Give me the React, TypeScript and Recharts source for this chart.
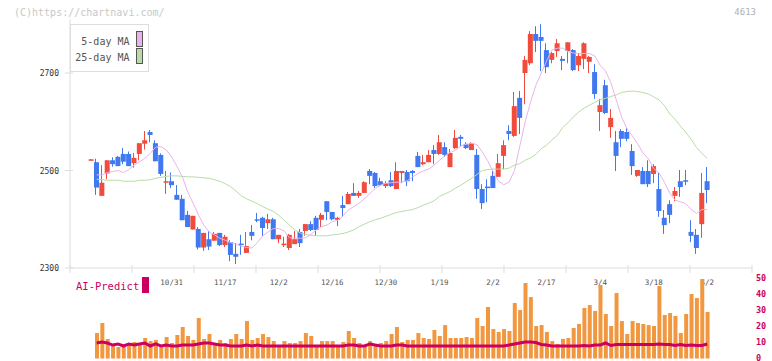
import { ComposedChart, Bar, Line, XAxis, YAxis } from "recharts";

// candle data, index 0 = oldest
const opens = [
  2522, 2517, 2448, 2494, 2521, 2528, 2534, 2534, 2515, 2534, 2555, 2579, 2556, 2532, 2475, 2478, 2450, 2442, 2409, 2379,
  2380, 2342, 2359, 2356, 2372, 2347, 2353, 2329, 2350, 2331, 2374, 2400, 2403, 2392, 2400, 2359, 2348, 2341, 2349, 2374,
  2376, 2390, 2403, 2399, 2437, 2415, 2399, 2429, 2431, 2454, 2448, 2454, 2499, 2495, 2478, 2468, 2480, 2462, 2495, 2497,
  2499, 2530, 2513, 2517, 2542, 2534, 2548, 2507, 2546, 2569, 2554, 2542, 2532, 2462, 2467, 2489, 2487, 2530, 2581, 2571,
  2649, 2700, 2720, 2780, 2774, 2747, 2727, 2745, 2729, 2745, 2747, 2716, 2729, 2723, 2702, 2620, 2675, 2589, 2558, 2581,
  2579, 2540, 2489, 2499, 2499, 2493, 2462, 2403, 2431, 2448, 2478, 2480, 2374, 2368, 2390, 2478,
];
const highs = [
  2523, 2524, 2511, 2521, 2527, 2530, 2546, 2539, 2536, 2556, 2581, 2583, 2562, 2535, 2499, 2496, 2470, 2450, 2417, 2407,
  2384, 2372, 2376, 2374, 2372, 2368, 2357, 2351, 2368, 2374, 2388, 2413, 2405, 2411, 2403, 2368, 2364, 2370, 2376, 2380,
  2390, 2396, 2407, 2413, 2437, 2415, 2405, 2448, 2456, 2474, 2458, 2478, 2503, 2497, 2485, 2478, 2497, 2517, 2499, 2501,
  2501, 2538, 2532, 2542, 2552, 2573, 2558, 2544, 2583, 2573, 2558, 2558, 2544, 2472, 2482, 2501, 2534, 2562, 2593, 2661,
  2663, 2735, 2786, 2796, 2800, 2761, 2743, 2770, 2735, 2763, 2749, 2741, 2763, 2735, 2718, 2647, 2686, 2626, 2581, 2585,
  2587, 2554, 2501, 2507, 2521, 2513, 2495, 2419, 2439, 2466, 2501, 2501, 2398, 2380, 2495, 2507,
];
const lows = [
  2521, 2450, 2448, 2482, 2508, 2509, 2513, 2509, 2506, 2521, 2543, 2558, 2519, 2489, 2452, 2464, 2440, 2398, 2384, 2379,
  2338, 2335, 2337, 2356, 2345, 2343, 2314, 2308, 2327, 2331, 2357, 2394, 2366, 2380, 2359, 2351, 2343, 2337, 2349, 2343,
  2366, 2376, 2366, 2384, 2398, 2398, 2386, 2405, 2431, 2448, 2444, 2454, 2472, 2464, 2468, 2464, 2466, 2462, 2474, 2468,
  2478, 2507, 2511, 2517, 2513, 2532, 2528, 2507, 2544, 2550, 2544, 2542, 2442, 2421, 2435, 2464, 2487, 2503, 2562, 2569,
  2575, 2636, 2716, 2743, 2704, 2700, 2720, 2733, 2706, 2720, 2704, 2704, 2708, 2700, 2647, 2581, 2616, 2567, 2499, 2548,
  2560, 2491, 2487, 2472, 2466, 2474, 2405, 2370, 2392, 2437, 2446, 2470, 2353, 2329, 2362, 2433,
];
const closes = [
  2523, 2465, 2475, 2521, 2513, 2509, 2518, 2509, 2526, 2556, 2562, 2573, 2519, 2493, 2478, 2470, 2440, 2398, 2384, 2407,
  2342, 2372, 2344, 2370, 2347, 2364, 2327, 2323, 2348, 2345, 2366, 2397, 2382, 2400, 2359, 2368, 2350, 2368, 2359, 2351,
  2390, 2378, 2378, 2409, 2415, 2400, 2403, 2423, 2452, 2448, 2454, 2476, 2489, 2468, 2470, 2474, 2468, 2499, 2499, 2478,
  2495, 2507, 2517, 2532, 2534, 2558, 2532, 2536, 2567, 2565, 2546, 2556, 2462, 2433, 2465, 2464, 2515, 2552, 2575, 2632,
  2608, 2727, 2780, 2766, 2766, 2712, 2741, 2761, 2725, 2763, 2706, 2735, 2761, 2733, 2657, 2634, 2618, 2608, 2530, 2565,
  2565, 2509, 2501, 2472, 2472, 2509, 2417, 2388, 2409, 2458, 2466, 2477, 2366, 2341, 2454, 2460,
];

const ma5 = [
  null, 2491, 2491, 2496, 2498, 2500, 2496, 2502, 2511, 2518, 2525, 2535, 2548, 2549, 2542, 2528, 2508, 2487, 2456, 2433,
  2409, 2388, 2374, 2368, 2361, 2357, 2352, 2349, 2345, 2342, 2341, 2352, 2366, 2374, 2381, 2381, 2376, 2362, 2361, 2361,
  2362, 2369, 2378, 2385, 2388, 2395, 2398, 2407, 2419, 2426, 2433, 2442, 2453, 2463, 2470, 2474, 2475, 2476, 2476, 2479,
  2487, 2494, 2499, 2503, 2511, 2521, 2530, 2537, 2542, 2550, 2554, 2556, 2553, 2538, 2520, 2498, 2478, 2471, 2476, 2500,
  2550, 2600, 2640, 2675, 2700, 2725, 2747, 2751, 2751, 2744, 2741, 2740, 2740, 2740, 2735, 2716, 2704, 2680, 2645, 2610,
  2586, 2571, 2555, 2536, 2524, 2504, 2495, 2476, 2453, 2439, 2436, 2432, 2420, 2412, 2420, 2420,
];
const ma25 = [
  null, 2482, 2481, 2480, 2480, 2480, 2478, 2478, 2478, 2480, 2480, 2481, 2484, 2486, 2488, 2489, 2489, 2488, 2487, 2487,
  2486, 2485, 2484, 2481, 2478, 2473, 2467, 2458, 2448, 2442, 2437, 2432, 2426, 2421, 2416, 2408, 2398, 2388, 2378, 2372,
  2369, 2367, 2366, 2366, 2366, 2368, 2369, 2371, 2374, 2378, 2385, 2390, 2395, 2399, 2402, 2406, 2410, 2414, 2416, 2418,
  2420, 2424, 2429, 2433, 2438, 2447, 2452, 2457, 2464, 2470, 2477, 2484, 2492, 2500, 2502, 2503, 2503, 2503, 2505, 2511,
  2514, 2521, 2526, 2533, 2545, 2552, 2563, 2572, 2588, 2598, 2610, 2620, 2628, 2634, 2640, 2645, 2648, 2652, 2655, 2660,
  2662, 2663, 2662, 2660, 2657, 2651, 2645, 2633, 2616, 2605, 2591, 2578, 2564, 2547, 2535, 2525,
];

const volume = [
  null, 15.9, 22.2, 12.2, 9.1, 7.2, 8.4, 9.1, 10.3, 9.1, 12.8, 10.9, 11.6, 7.2, 13.4, 9.7, 14.7, 19.7, 14.1, 11.6,
  25.3, 12.2, 15.3, 9.1, 11.6, 9.7, 12.2, 15.3, 12.2, 23.4, 11.6, 12.8, 15.3, 13.4, 10.9, 7.8, 10.9, 9.7, 9.7, 10.9,
  15.9, 14.1, 8.4, 10.9, 10.9, 10.9, 7.8, 10.3, 17.2, 12.8, 9.7, 8.4, 10.9, 9.1, 9.7, 10.9, 15.3, 19.7, 10.3, 11.6,
  11.6, 15.9, 12.8, 12.2, 17.8, 14.1, 20.9, 12.8, 12.8, 12.8, 13.4, 12.8, 25.3, 20.3, 32.2, 18.4, 16.6, 18.4, 17.2, 34.7,
  30.3, 47.2, 38.4, 20.3, 20.9, 16.6, 10.9, 9.1, 12.2, 12.8, 19.1, 21.6, 31.6, 33.4, 29.7, 45.9, 27.8, 20.3, 40.9, 23.4,
  15.3, 23.4, 22.2, 21.6, 20.9, 20.3, 45.3, 27.2, 28.4, 26.6, 15.9, 27.8, 40.3, 37.8, 49.7, 29.1,
];
const aiPredict = [
  null, 9.7, 10.3, 9.7, 8.4, 9.1, 7.8, 9.1, 8.4, 9.1, 9.7, 7.8, 9.1, 7.8, 8.4, 7.8, 7.8, 8.4, 8.4, 8.4,
  9.1, 9.7, 9.7, 9.1, 8.4, 8.4, 7.8, 7.8, 7.8, 8.4, 7.8, 8.4, 7.8, 7.8, 7.8, 7.8, 7.8, 7.8, 7.8, 7.8,
  7.8, 7.8, 7.8, 7.8, 7.8, 7.8, 7.8, 7.8, 8.4, 8.4, 7.8, 7.8, 9.1, 8.4, 7.8, 7.8, 7.8, 8.4, 8.4, 7.8,
  7.8, 7.8, 7.8, 7.8, 7.8, 7.8, 7.8, 7.8, 7.8, 7.8, 7.8, 7.8, 7.8, 7.8, 7.8, 7.8, 7.8, 7.8, 8.4, 9.1,
  9.7, 10.3, 10.3, 10.0, 8.8, 8.4, 7.8, 7.8, 7.8, 7.8, 7.8, 7.8, 8.1, 7.8, 8.4, 8.4, 9.7, 8.1, 8.8, 8.8,
  8.8, 8.8, 8.8, 8.8, 8.8, 8.8, 9.1, 8.8, 8.8, 8.1, 8.8, 8.1, 8.4, 8.1, 8.1, 9.1,
];

const labelIdx = [15, 25, 35, 45, 55, 65, 75, 85, 95, 105, 115];
const labelText = ["10/31", "11/17", "12/2", "12/16", "12/30", "1/19", "2/2", "2/17", "3/4", "3/18", "4/2"];
const priceTicks = [2300, 2500, 2700];
const volTicks = [0, 10, 20, 30, 40, 50];

const RED = "#f04b3c";
const BLUE = "#3f78ef";
const PINK = "#e9b3ea";
const GREEN = "#b7dca6";
const AI_COLOR = "#cc0060";
const VOL_COLOR = "#f1973f";
const MONO = "'DejaVu Sans Mono', monospace";

const X_MIN = -3.98;
const X_MAX = 123.35;
const AXIS_Y = 268;
const divTicks = Array.from({ length: 12 }, (_, j) => X_MIN + (j * (X_MAX - X_MIN)) / 11);

const rows = opens.map((o, i) => ({
  i,
  open: o,
  high: highs[i],
  low: lows[i],
  close: closes[i],
  ma5: ma5[i],
  ma25: ma25[i],
  vol: volume[i],
  ai: aiPredict[i],
}));

const Candle = (props: any) => {
  const { x, y, width, height, payload } = props;
  if (!payload || height == null) return null;
  const { open, close, high, low } = payload;
  const color = close >= open ? RED : BLUE;
  const ratio = high > low ? height / (high - low) : 0;
  const yOf = (v: number) => y + (high - v) * ratio;
  const top = yOf(Math.max(open, close));
  const bottom = yOf(Math.min(open, close));
  const cx = Math.round(x + width / 2) - 0.5;
  return (
    <g>
      <line x1={cx} x2={cx} y1={y} y2={y + height} stroke={color} strokeWidth={1} />
      <rect x={x} y={top} width={width} height={Math.max(bottom - top, 1.5)} fill={color} />
    </g>
  );
};

const XTick = (props: any) => {
  const { x, payload } = props;
  const k = labelIdx.indexOf(payload.value);
  if (k >= 0) {
    return (
      <text x={x} y={AXIS_Y + 17} textAnchor="middle" fontSize={7.5} fontFamily={MONO} fill="#555">
        {labelText[k]}
      </text>
    );
  }
  return <line x1={x} x2={x} y1={AXIS_Y - 3} y2={AXIS_Y + 5} stroke="#ddd" strokeWidth={1} />;
};

const YTick = (props: any) => {
  const { y, payload } = props;
  return (
    <g>
      <line x1={65} x2={73} y1={y} y2={y} stroke="#ddd" strokeWidth={1} />
      <text x={59} y={y + 3} textAnchor="end" fontSize={8} fontFamily={MONO} fill="#333">
        {payload.value}
      </text>
    </g>
  );
};

const VTick = (props: any) => {
  const { y, payload } = props;
  return (
    <text x={756} y={y + 2} fontSize={8.5} fontFamily={MONO} fontWeight="bold" fill={AI_COLOR}>
      {payload.value}
    </text>
  );
};

export default function App() {
  return (
    <div style={{ position: "absolute", left: 0, top: 0, width: 772, height: 361, background: "#fff" }}>
      <div style={{ position: "absolute", left: 0, top: 0 }}>
        <ComposedChart width={772} height={290} data={rows} margin={{ top: 19.4, right: 20, bottom: 0, left: 0 }}>
          <XAxis
            type="number"
            dataKey="i"
            domain={[X_MIN, X_MAX]}
            ticks={[...divTicks, ...labelIdx]}
            interval={0}
            tick={<XTick />}
            tickLine={false}
            axisLine={{ stroke: "#ddd" }}
            height={22}
            allowDataOverflow
          />
          <YAxis
            domain={[2300, 2810]}
            ticks={priceTicks}
            interval={0}
            width={70}
            tick={<YTick />}
            tickLine={false}
            axisLine={{ stroke: "#ddd" }}
            allowDataOverflow
          />
          <Line dataKey="ma25" stroke={GREEN} strokeWidth={1} dot={false} isAnimationActive={false} />
          <Line dataKey="ma5" stroke={PINK} strokeWidth={1} dot={false} isAnimationActive={false} />
          <Bar dataKey={(d: any) => [d.low, d.high]} shape={<Candle />} barSize={5} isAnimationActive={false} />
        </ComposedChart>
      </div>
      <div style={{ position: "absolute", left: 0, top: 270 }}>
        <ComposedChart width={772} height={91} data={rows} margin={{ top: 8.5, right: 0, bottom: 2.5, left: 70 }}>
          <XAxis type="number" dataKey="i" domain={[X_MIN, X_MAX]} hide allowDataOverflow />
          <YAxis
            orientation="right"
            domain={[0, 50]}
            ticks={volTicks}
            interval={0}
            width={20}
            axisLine={false}
            tickLine={false}
            tick={<VTick />}
          />
          <Bar dataKey="vol" fill={VOL_COLOR} barSize={4} isAnimationActive={false} />
          <Line dataKey="ai" stroke={AI_COLOR} strokeWidth={3} dot={false} isAnimationActive={false} />
        </ComposedChart>
      </div>
      <svg width={772} height={361} style={{ position: "absolute", left: 0, top: 0, pointerEvents: "none" }}>
        <text x={14} y={15.5} fontSize={10} fontFamily={MONO} fill="#c8c8c8">
          (C)https://chartnavi.com/
        </text>
        <text x={756} y={15} textAnchor="end" fontSize={9} fontFamily={MONO} fill="#b0b0b0">
          4613
        </text>
        <rect x={70.5} y={24.5} width={78} height={47} fill="#fff" stroke="#ddd" />
        <text x={129.5} y={44.5} textAnchor="end" fontSize={10} fontFamily={MONO} fill="#555">
          5-day MA
        </text>
        <rect x={136.5} y={31.5} width={6} height={15} fill={PINK} stroke="#555" />
        <text x={129.5} y={61} textAnchor="end" fontSize={10} fontFamily={MONO} fill="#555">
          25-day MA
        </text>
        <rect x={136.5} y={48.5} width={6} height={15} fill={GREEN} stroke="#555" />
        <text x={76} y={290} fontSize={10.5} fontFamily={MONO} fill={AI_COLOR}>
          AI-Predict
        </text>
        <rect x={142} y={277} width={7} height={16} fill={AI_COLOR} />
      </svg>
    </div>
  );
}
